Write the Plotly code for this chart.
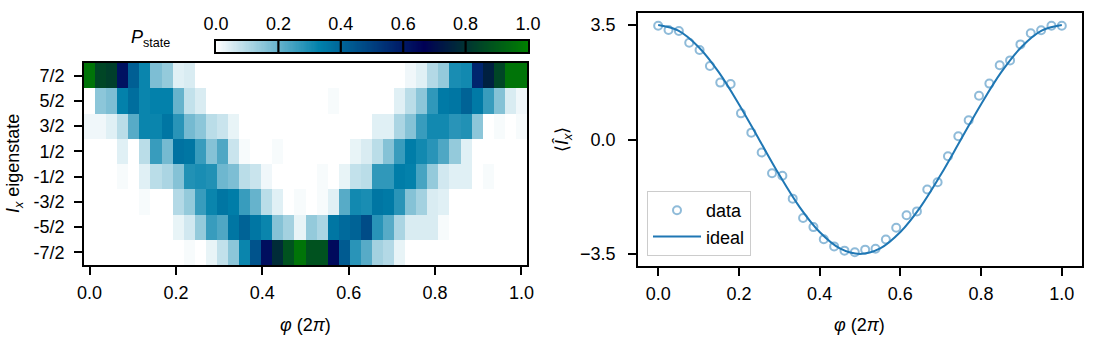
import plotly.graph_objects as go

# phase grid (units of 2pi), 40 steps
phi = [i / 39 for i in range(40)]

# Ix eigenstate rows, top to bottom
state_vals = [3.5, 2.5, 1.5, 0.5, -0.5, -1.5, -2.5, -3.5]
state_labels = ["7/2", "5/2", "3/2", "1/2", "-1/2", "-3/2", "-5/2", "-7/2"]

# P_state, one list per row
p_72 = [0.97, 0.85, 0.83, 0.62, 0.42, 0.32, 0.17, 0.14, 0.04, 0.05,
        0, 0, 0, 0, 0, 0, 0, 0, 0, 0,
        0, 0, 0, 0, 0, 0, 0, 0, 0, 0.02,
        0.04, 0.10, 0.14, 0.30, 0.31, 0.57, 0.75, 0.85, 0.97, 0.97]
p_52 = [0, 0.15, 0.17, 0.33, 0.38, 0.32, 0.33, 0.33, 0.20, 0.08,
        0.05, 0, 0, 0, 0, 0, 0, 0, 0, 0,
        0, 0, 0.01, 0, 0, 0, 0, 0, 0.04, 0.09,
        0.15, 0.27, 0.35, 0.36, 0.41, 0.35, 0.26, 0.16, 0.05, 0.02]
p_32 = [0.02, 0.02, 0.04, 0.09, 0.22, 0.32, 0.32, 0.36, 0.28, 0.18,
        0.15, 0.09, 0.07, 0.03, 0, 0, 0, 0, 0, 0,
        0, 0, 0, 0, 0, 0, 0.04, 0.04, 0.11, 0.16,
        0.26, 0.31, 0.31, 0.28, 0.29, 0.15, 0, 0.01, 0, 0.01]
p_12 = [0, 0, 0, 0.04, 0, 0.09, 0.26, 0.18, 0.37, 0.36,
        0.26, 0.16, 0.23, 0.07, 0.01, 0, 0, 0.01, 0, 0,
        0, 0, 0, 0, 0.03, 0.05, 0.09, 0.16, 0.26, 0.34,
        0.31, 0.28, 0.23, 0.14, 0.04, 0, 0, 0, 0, 0]
p_m12 = [0, 0, 0, 0.01, 0, 0.04, 0.09, 0.11, 0.16, 0.29,
         0.30, 0.29, 0.19, 0.17, 0.09, 0.07, 0.02, 0, 0, 0,
         0, 0.01, 0, 0.03, 0.08, 0.09, 0.27, 0.27, 0.34, 0.33,
         0.24, 0.14, 0.06, 0.04, 0.04, 0, 0.01, 0, 0, 0]
p_m32 = [0, 0, 0, 0, 0, 0.01, 0, 0, 0.10, 0.14,
         0.26, 0.32, 0.36, 0.34, 0.26, 0.20, 0.09, 0.04, 0, 0.01,
         0, 0.01, 0.04, 0.22, 0.31, 0.30, 0.36, 0.35, 0.28, 0.16,
         0.12, 0.05, 0.04, 0, 0, 0, 0, 0, 0, 0]
p_m52 = [0, 0, 0, 0, 0, 0, 0, 0, 0.03, 0.06,
         0.14, 0.26, 0.23, 0.36, 0.41, 0.36, 0.32, 0.16, 0.12, 0.03,
         0.14, 0.11, 0.36, 0.39, 0.41, 0.47, 0.28, 0.22, 0.11, 0.05,
         0.05, 0.05, 0.01, 0, 0, 0, 0, 0, 0, 0]
p_m72 = [0, 0, 0, 0, 0, 0, 0, 0, 0, 0.01,
         0, 0.03, 0.08, 0.15, 0.32, 0.45, 0.63, 0.78, 0.88, 0.97,
         0.88, 0.88, 0.64, 0.43, 0.28, 0.22, 0.12, 0.10, 0.03, 0,
         0, 0, 0, 0, 0, 0, 0, 0, 0, 0]

# <Ix> measured
ix_data = [3.48, 3.35, 3.32, 2.96, 2.74, 2.25, 1.74, 1.70, 0.80, 0.21,
           -0.40, -1.03, -1.11, -1.81, -2.40, -2.68, -3.05, -3.27, -3.40, -3.45,
           -3.37, -3.34, -3.06, -2.70, -2.32, -2.20, -1.53, -1.31, -0.51, 0.10,
           0.59, 1.34, 1.71, 2.27, 2.42, 2.91, 3.25, 3.34, 3.48, 3.48]

# ideal curve read at 0.05 steps
ideal_phi = [0, 0.05, 0.1, 0.15, 0.2, 0.25, 0.3, 0.35, 0.4, 0.45, 0.5,
             0.55, 0.6, 0.65, 0.7, 0.75, 0.8, 0.85, 0.9, 0.95, 1.0]
ideal_ix = [3.50, 3.33, 2.83, 2.06, 1.08, 0.00, -1.08, -2.06, -2.83, -3.33, -3.50,
            -3.33, -2.83, -2.06, -1.08, 0.00, 1.08, 2.06, 2.83, 3.33, 3.50]

cbar_ticks = [0.0, 0.2, 0.4, 0.6, 0.8, 1.0]
tick_text = ["0.0", "0.2", "0.4", "0.6", "0.8", "1.0"]

# matplotlib "ocean_r" is piecewise linear between these stops
ocean_r = [[0.0, "rgb(255,255,255)"], [1 / 3, "rgb(0,128,170)"],
           [2 / 3, "rgb(0,0,85)"], [1.0, "rgb(0,128,0)"]]

W, H = 1116, 340
def px(x): return x / W
def py(y): return 1 - y / H

FONT = "Liberation Sans, Arial, sans-serif"
FS = 18
BLUE = "#1f77b4"

fig = go.Figure()

fig.add_trace(go.Heatmap(
    x=phi, y=state_vals,
    z=[p_72, p_52, p_32, p_12, p_m12, p_m32, p_m52, p_m72],
    colorscale=ocean_r, zmin=0, zmax=1, showscale=False,
    xaxis="x", yaxis="y", hoverinfo="skip"))

# colour bar drawn as its own small heatmap so the labels can sit on top
nbar = 256
fig.add_trace(go.Heatmap(
    z=[[(i + 0.5) / nbar for i in range(nbar)]], x0=0.5 / nbar, dx=1 / nbar, y=[0],
    colorscale=ocean_r, zmin=0, zmax=1, showscale=False,
    xaxis="x3", yaxis="y3", hoverinfo="skip"))

fig.add_trace(go.Scatter(
    x=phi, y=ix_data, mode="markers", name="data",
    marker=dict(symbol="circle-open", size=8, color="rgba(31,119,180,0.5)",
                line=dict(width=2, color="rgba(31,119,180,0.5)")),
    xaxis="x2", yaxis="y2"))
fig.add_trace(go.Scatter(
    x=ideal_phi, y=ideal_ix, mode="lines", name="ideal",
    line=dict(color=BLUE, width=2, shape="spline", smoothing=1.0),
    xaxis="x2", yaxis="y2"))

ax = dict(showline=True, linecolor="black", linewidth=1.8, mirror=True,
          ticks="outside", ticklen=8, tickwidth=1.8, tickcolor="black",
          showgrid=False, zeroline=False, automargin=False,
          tickfont=dict(family=FONT, size=FS, color="black"))

fig.update_layout(
    width=W, height=H, margin=dict(l=0, r=0, t=0, b=0, autoexpand=False),
    paper_bgcolor="white", plot_bgcolor="white",
    font=dict(family=FONT, size=FS, color="black"),
    xaxis=dict(ax, domain=[px(84), px(527)], range=[-0.5 / 39, 1 + 0.5 / 39],
               tickvals=cbar_ticks, ticktext=tick_text, ticklabelstandoff=2),
    yaxis=dict(ax, domain=[py(265), py(63)], range=[-4, 4],
               tickvals=state_vals, ticktext=state_labels, ticklabelstandoff=6),
    xaxis2=dict(ax, domain=[px(638), px(1082)], range=[-0.05, 1.05], anchor="y2",
                tickvals=cbar_ticks, ticktext=tick_text, ticklabelstandoff=2),
    yaxis2=dict(ax, domain=[py(266), py(13)], range=[-3.87, 3.87], anchor="x2",
                tickvals=[3.5, 0, -3.5], ticktext=["3.5", "0.0", "\u22123.5"],
                ticklabelstandoff=9),
    xaxis3=dict(ax, domain=[px(216), px(528)], range=[0, 1], anchor="y3", side="top",
                ticks="", ticklabelstandoff=2, tickvals=cbar_ticks, ticktext=tick_text),
    yaxis3=dict(ax, domain=[py(52), py(41)], range=[-0.5, 0.5], anchor="x3",
                ticks="", showticklabels=False),
    showlegend=True,
    legend=dict(x=px(647), y=py(256), xanchor="left", yanchor="bottom",
                itemwidth=48, bgcolor="white", bordercolor="#cccccc", borderwidth=1,
                font=dict(family=FONT, size=FS, color="black")),
)

for v in cbar_ticks[1:-1]:
    fig.add_shape(type="line", xref="x3", yref="y3 domain", x0=v, x1=v, y0=0, y1=1,
                  line=dict(color="black", width=2.2))

ann = dict(showarrow=False, xref="paper", yref="paper", yanchor="middle",
           xanchor="center", font=dict(family=FONT, size=FS, color="black"))
fig.add_annotation(ann, x=px(305), y=py(325), text="<i>φ</i> (2<i>π</i>)")
fig.add_annotation(ann, x=px(860), y=py(325), text="<i>φ</i> (2<i>π</i>)")
fig.add_annotation(ann, x=px(14), y=py(164), text="<i>I<sub>x</sub></i> eigenstate",
                   textangle=-90)
fig.add_annotation(ann, x=px(563), y=py(140), text="⟨<i>Î<sub>x</sub></i>⟩",
                   textangle=-90)
fig.add_annotation(ann, x=px(150), y=py(38), text="<i>P</i><sub>state</sub>")

# drop the default page margin so the figure sits at the window's corner
fig.write_html("out.html", config={"displayModeBar": False},
               post_script="document.body.style.margin = '0';")
